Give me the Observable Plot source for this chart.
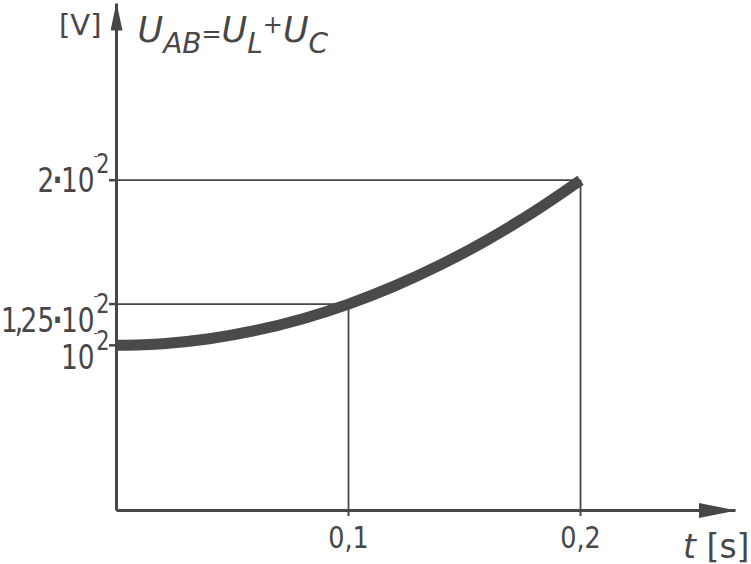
<!DOCTYPE html>
<html>
<head>
<meta charset="utf-8">
<script src="https://cdn.jsdelivr.net/npm/d3@7"></script>
<script src="https://cdn.jsdelivr.net/npm/@observablehq/plot@0.6"></script>
<style>
  html, body { margin: 0; padding: 0; background: #ffffff; }
  #chart svg { display: block; }
</style>
</head>
<body>
<div id="chart"></div>
<script>
// ---- data ----
const timeS   = [0, 0.02, 0.04, 0.06, 0.08, 0.10, 0.12, 0.14, 0.16, 0.18, 0.20];
const voltage = [0.0100, 0.0101, 0.0104, 0.0109, 0.0116, 0.0125, 0.0136, 0.0149, 0.0164, 0.0181, 0.0200];

const xTickValues = [0.1, 0.2];
const xTickLabels = ["0,1", "0,2"];

const yTickValues   = [0.02, 0.0125, 0.01];
const yTickMantissa = ["2·10", "1,25·10", "10"];
const yTickExponent = ["2", "2", "2"];

const guideT = [0.2, 0.1];
const guideU = [0.02, 0.0125];

const xAxisEnd = 0.2668;
const yAxisEnd = 0.0307;

const yAxisUnit = "[V]";
const xAxisVar = "t";
const xAxisUnit = " [s]";

// ---- styling ----
const ink = "#474747";
const font = "'DejaVu Sans', sans-serif";

function filledArrow(len, half) {
  return (color) => {
    const m = d3.create("svg:marker")
      .attr("viewBox", `0 ${-half} ${len} ${2 * half}`)
      .attr("markerUnits", "userSpaceOnUse")
      .attr("markerWidth", len)
      .attr("markerHeight", 2 * half)
      .attr("refX", len - 1)
      .attr("refY", 0)
      .attr("orient", "auto");
    m.append("path")
      .attr("d", `M0,${-half}L${len},0L0,${half}Z`)
      .attr("fill", color)
      .attr("stroke", "none");
    return m.node();
  };
}

const curve = timeS.map((t, i) => ({t, u: voltage[i]}));
const idx = (a) => a.map((_, i) => i);

// per-label layout of the y tick labels
const yMainDy = [12, 28, 24];   // main baseline offset from the value line
const ySupLift = 19;            // superscript baseline above main baseline
const yScaleX = 0.8;            // condensed lettering

const marks = [
  // thin guide lines
  Plot.ruleY(idx(guideU), {y: (i) => guideU[i], x1: 0, x2: (i) => guideT[i], stroke: ink, strokeWidth: 1.8}),
  Plot.ruleX(idx(guideT), {x: (i) => guideT[i], y1: 0, y2: (i) => guideU[i], stroke: ink, strokeWidth: 1.8}),
  // axes with arrows
  Plot.link([0], {x1: 0, y1: 0, x2: xAxisEnd, y2: 0, stroke: ink, strokeWidth: 3, markerEnd: filledArrow(38, 7.5)}),
  Plot.link([0], {x1: 0, y1: 0, x2: 0, y2: yAxisEnd, stroke: ink, strokeWidth: 3, markerEnd: filledArrow(28, 6)}),
  // ticks
  Plot.axisX({ticks: xTickValues, tickSize: 6, tickFormat: () => "", stroke: ink, strokeWidth: 2, anchor: "bottom", label: null}),
  Plot.axisY({ticks: yTickValues, tickSize: 7, tickFormat: () => "", stroke: ink, strokeWidth: 2.5, anchor: "left", label: null}),
  // the curve
  Plot.line(curve, {x: "t", y: "u", curve: "catmull-rom", stroke: "#4a4a4a", strokeWidth: 11, strokeLinecap: "butt"}),
  // x tick labels
  Plot.text(idx(xTickValues), {x: (i) => xTickValues[i], y: 0, text: (i) => xTickLabels[i],
    lineAnchor: "top", dy: 16, fontSize: 30, fill: ink, fontFamily: font, className: "xtl"}),
  // y tick labels
  ...yTickValues.map((v, i) => Plot.text([i], {
    x: 0, y: (j) => yTickValues[j], text: (j) => yTickMantissa[j],
    textAnchor: "end", lineAnchor: "bottom", dx: -7, dy: yMainDy[i],
    fontSize: 33, fill: ink, fontFamily: font, className: `ytl${i}`
  })),
  // y unit
  Plot.text([yAxisUnit], {frameAnchor: "top-left", text: (d) => d, textAnchor: "end", lineAnchor: "bottom",
    dx: -15, dy: 31, fontSize: 29, fill: ink, fontFamily: font}),
  // equation label
  Plot.text(["U"], {frameAnchor: "top-left", text: (d) => d, textAnchor: "start", lineAnchor: "bottom",
    dx: 21, dy: 38, fontSize: 35, fontStyle: "italic", fill: ink, fontFamily: font, className: "eq"}),
  // x unit
  Plot.text([xAxisVar], {frameAnchor: "bottom-right", text: (d) => d, textAnchor: "end", lineAnchor: "bottom",
    dx: 14, dy: 47, fontSize: 33, fontStyle: "italic", fill: ink, fontFamily: font, className: "xunit"})
];

const plot = Plot.plot({
  width: 751,
  height: 564,
  marginLeft: 116,
  marginRight: 16,
  marginTop: 3,
  marginBottom: 54,
  x: {domain: [0, xAxisEnd], label: null},
  y: {domain: [0, yAxisEnd], label: null},
  style: {background: "#ffffff", color: ink, fontFamily: font},
  marks
});

const svg = d3.select(plot);

// mantissa with narrow comma / bold dot, plus raised exponent
yTickValues.forEach((v, i) => {
  svg.selectAll(`g.ytl${i} text`).each(function () {
    const t = d3.select(this);
    const parts = yTickMantissa[i].split("·");
    t.text(null);
    const head = parts[0].split(",");
    t.append("tspan").text(head[0]);
    if (head.length > 1) {
      t.append("tspan").attr("dx", -4).text(",");
      t.append("tspan").attr("dx", -3).text(head[1]);
    }
    if (parts.length > 1) {
      t.append("tspan").attr("font-weight", "bold").attr("dx", -2).text("·");
      t.append("tspan").attr("dx", -2).text(parts[1]);
    }
    t.append("tspan").attr("font-size", 14).attr("dx", -1).attr("dy", -(ySupLift + 12)).text("-");
    t.append("tspan").attr("font-size", 26).attr("dx", -2).attr("dy", 12).text(yTickExponent[i]);
    const tr = t.attr("transform") || "";
    t.attr("transform", `${tr} scale(${yScaleX},1)`);
  });
});

// narrower tick labels on the time axis
svg.selectAll("g.xtl text").each(function () {
  const t = d3.select(this);
  const tr = t.attr("transform") || "";
  t.attr("transform", `${tr} scale(0.85,1)`);
});

// equation U_AB = U_L + U_C
svg.selectAll("g.eq text").each(function () {
  const t = d3.select(this);
  t.append("tspan").attr("font-size", 28).attr("dy", 11).text("AB");
  t.append("tspan").attr("font-size", 24).attr("dy", -11).attr("font-style", "normal").text("=");
  t.append("tspan").text("U");
  t.append("tspan").attr("font-size", 28).attr("dy", 11).text("L");
  t.append("tspan").attr("font-size", 24).attr("dy", -20).attr("font-style", "normal").text("+");
  t.append("tspan").attr("dy", 9).text("U");
  t.append("tspan").attr("font-size", 28).attr("dy", 11).text("C");
});

// x unit: italic t followed by [s]
svg.selectAll("g.xunit text").each(function () {
  d3.select(this).append("tspan").attr("font-style", "normal").text(xAxisUnit);
});

document.getElementById("chart").appendChild(plot);
</script>
</body>
</html>
